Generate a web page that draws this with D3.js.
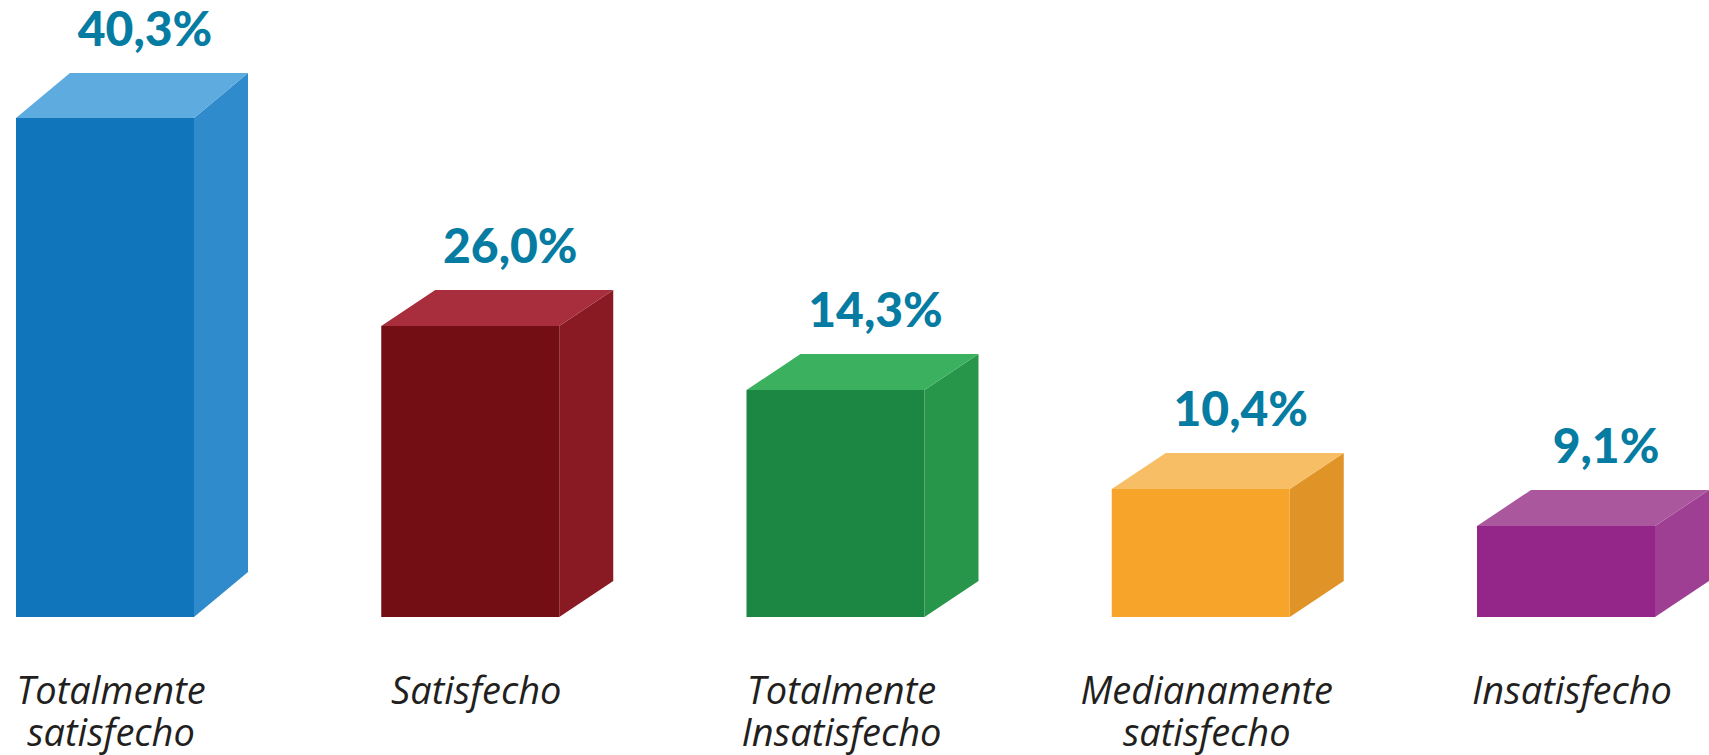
<!DOCTYPE html>
<html>
<head>
<meta charset="utf-8">
<script src="https://cdn.jsdelivr.net/npm/d3@7"></script>
<style>
  html, body { margin: 0; padding: 0; background: #fff; }
  svg { display: block; }
</style>
</head>
<body>
<div id="chart"></div>
<script>
// Data
const categories = [
  ["Totalmente", "satisfecho"],
  ["Satisfecho"],
  ["Totalmente", "Insatisfecho"],
  ["Medianamente", "satisfecho"],
  ["Insatisfecho"]
];
const values = [40.3, 26.0, 14.3, 10.4, 9.1];
const valueLabels = ["40,3%", "26,0%", "14,3%", "10,4%", "9,1%"];

// front / top / side colours for each box
const palette = [
  {front: "#1175bb", top: "#5dabdf", side: "#308bcc"},
  {front: "#730f14", top: "#a82d3d", side: "#891a24"},
  {front: "#1b8742", top: "#3bb15f", side: "#27964a"},
  {front: "#f7a42a", top: "#f8be66", side: "#e09327"},
  {front: "#932688", top: "#aa579e", side: "#9e3f93"}
];

const width = 1709;
const height = 755;
const baseY = 617;
const barW = 178;
const depthX = 54;

const svg = d3
  .select("#chart")
  .append("svg")
  .attr("width", width)
  .attr("height", height)
  .attr("viewBox", `0 0 ${width} ${height}`);

svg.append("rect").attr("width", width).attr("height", height).attr("fill", "#fff");

const x = d3
  .scalePoint()
  .domain(d3.range(values.length))
  .range([105, 1566]);

// the original graphic is not drawn to scale, so the y scale is piecewise
const y = d3
  .scaleLinear()
  .domain([0, 9.1, 10.4, 14.3, 26.0, 40.3])
  .range([baseY, 526, 489, 390, 326, 118]);

const bars = svg
  .selectAll("g.bar")
  .data(values)
  .enter()
  .append("g")
  .attr("class", "bar");

bars.each(function (d, i) {
  const g = d3.select(this);
  const c = palette[i];
  const x0 = x(i) - barW / 2;
  const x1 = x(i) + barW / 2;
  const yt = y(d);
  const dy = i === 0 ? 45 : 36;

  // side face
  g.append("path")
    .attr("d", `M${x1},${yt} L${x1 + depthX},${yt - dy} L${x1 + depthX},${baseY - dy} L${x1},${baseY} Z`)
    .attr("fill", c.side);

  // top face
  g.append("path")
    .attr("d", `M${x0},${yt} L${x0 + depthX},${yt - dy} L${x1 + depthX},${yt - dy} L${x1},${yt} Z`)
    .attr("fill", c.top);

  // front face
  g.append("rect")
    .attr("x", x0)
    .attr("y", yt)
    .attr("width", barW)
    .attr("height", baseY - yt)
    .attr("fill", c.front);

  // value label
  g.append("text")
    .attr("x", x(i) + 40)
    .attr("y", yt - dy - 27)
    .attr("text-anchor", "middle")
    .style("font-family", "Lato, 'Open Sans', sans-serif")
    .style("font-weight", 900)
    .style("font-size", "48px")
    .attr("fill", "#067ca2")
    .text(valueLabels[i]);
});

// category labels
svg
  .selectAll("text.cat")
  .data(categories)
  .enter()
  .append("text")
  .attr("class", "cat")
  .attr("text-anchor", "middle")
  .attr("x", (d, i) => x(i) + 6)
  .attr("y", 704)
  .style("font-family", "'Open Sans', sans-serif")
  .style("font-style", "italic")
  .style("font-weight", 500)
  .style("font-size", "38px")
  .attr("fill", "#231f20")
  .each(function (d) {
    d3.select(this)
      .selectAll("tspan")
      .data(d)
      .enter()
      .append("tspan")
      .attr("x", d3.select(this).attr("x"))
      .attr("dy", (t, j) => (j === 0 ? 0 : 42))
      .text((t) => t);
  });
</script>
</body>
</html>
